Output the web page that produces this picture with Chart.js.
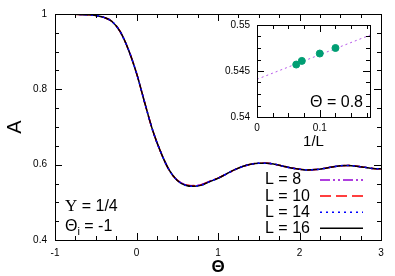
<!DOCTYPE html>
<html>
<head>
<meta charset="utf-8">
<script src="https://cdn.jsdelivr.net/npm/chart.js@4.4.1/dist/chart.umd.min.js"></script>
<style>
  body { margin: 0; background: #fff; }
  #wrap { position: relative; width: 395px; height: 276px; }
  #mainChart { position: absolute; left: 0; top: 0; }
  #insetChart { position: absolute; left: 200px; top: 10px; }
</style>
</head>
<body>
<div id="wrap">
  <canvas id="mainChart" width="395" height="276"></canvas>
  <canvas id="insetChart" width="190" height="150"></canvas>
</div>
<script>
// main panel: A vs Theta for several L
const theta = [-1.0, -0.9, -0.8, -0.7, -0.6, -0.5, -0.4, -0.3, -0.2, -0.1,
               0.0, 0.1, 0.2, 0.3, 0.4, 0.5, 0.6, 0.7, 0.8, 0.9,
               1.0, 1.1, 1.2, 1.3, 1.4, 1.5, 1.6, 1.7, 1.8, 1.9,
               2.0, 2.1, 2.2, 2.3, 2.4, 2.5, 2.6, 2.7, 2.8, 2.9, 3.0];

const aL8  = [1.000, 1.000, 0.9995, 0.999, 0.998, 0.996, 0.991, 0.980, 0.953, 0.906,
              0.843, 0.765, 0.690, 0.632, 0.586, 0.559, 0.547, 0.5444, 0.5475, 0.5566,
              0.5645, 0.575, 0.586, 0.595, 0.601, 0.604, 0.604, 0.601, 0.596, 0.591,
              0.588, 0.586, 0.587, 0.590, 0.594, 0.597, 0.598, 0.596, 0.593, 0.590, 0.589];
const aL10 = [1.000, 1.000, 0.9995, 0.999, 0.998, 0.996, 0.991, 0.980, 0.953, 0.906,
              0.843, 0.765, 0.690, 0.632, 0.586, 0.5585, 0.5465, 0.5437, 0.5469, 0.556,
              0.5643, 0.575, 0.586, 0.595, 0.601, 0.604, 0.604, 0.601, 0.596, 0.591,
              0.588, 0.586, 0.587, 0.590, 0.594, 0.597, 0.598, 0.596, 0.593, 0.590, 0.589];
const aL14 = [1.000, 1.000, 0.9995, 0.999, 0.998, 0.996, 0.991, 0.980, 0.953, 0.906,
              0.843, 0.765, 0.690, 0.632, 0.586, 0.558, 0.5458, 0.5429, 0.5461, 0.5553,
              0.564, 0.575, 0.586, 0.595, 0.601, 0.604, 0.604, 0.601, 0.596, 0.591,
              0.588, 0.586, 0.587, 0.590, 0.594, 0.597, 0.598, 0.596, 0.593, 0.590, 0.589];
const aL16 = [1.000, 1.000, 0.9995, 0.999, 0.998, 0.996, 0.991, 0.980, 0.953, 0.906,
              0.843, 0.765, 0.690, 0.632, 0.586, 0.558, 0.5455, 0.5425, 0.5457, 0.555,
              0.564, 0.575, 0.586, 0.595, 0.601, 0.604, 0.604, 0.601, 0.596, 0.591,
              0.588, 0.586, 0.587, 0.590, 0.594, 0.597, 0.598, 0.596, 0.593, 0.590, 0.589];

const seriesLabels = ['L = 8', 'L = 10', 'L = 14', 'L = 16'];

// inset: A at Theta = 0.8 vs 1/L, plus linear fit
const invL = [0.0625, 0.0714, 0.1, 0.125];
const aAt08 = [0.5457, 0.5461, 0.5469, 0.5475];
const fitX = [0, 0.18];
const fitY = [0.5441, 0.5489];

const SANS = '"Liberation Sans", Arial, sans-serif';

function pts(xs, ys) {
    return xs.map((x, i) => ({x: x, y: ys[i]}));
}

function fmt(v) {
    return String(+v.toFixed(4));
}

// gnuplot style frame with inward ticks on all four sides
const boxTicks = {
    id: 'boxTicks',
    afterDatasetsDraw(chart, args, opts) {
        const {ctx, chartArea: a, scales} = chart;
        ctx.save();
        ctx.strokeStyle = '#000';
        ctx.lineWidth = 1;
        ctx.strokeRect(Math.round(a.left) + 0.5, Math.round(a.top) + 0.5,
                       Math.round(a.right - a.left), Math.round(a.bottom - a.top));
        ['x', 'y'].forEach(k => {
            const s = scales[k];
            const st = opts[k];
            const n = Math.floor((s.max - s.min) / st.minor + 1e-6);
            for (let i = 0; i <= n; i++) {
                const v = s.min + i * st.minor;
                const r = v / st.major;
                const len = Math.abs(r - Math.round(r)) < 1e-6 ? 7 : 4;
                const p = Math.round(s.getPixelForValue(v)) + 0.5;
                ctx.beginPath();
                if (k === 'x') {
                    ctx.moveTo(p, a.bottom); ctx.lineTo(p, a.bottom - len);
                    ctx.moveTo(p, a.top); ctx.lineTo(p, a.top + len);
                } else {
                    ctx.moveTo(a.left, p); ctx.lineTo(a.left + len, p);
                    ctx.moveTo(a.right, p); ctx.lineTo(a.right - len, p);
                }
                ctx.stroke();
            }
        });
        ctx.restore();
    }
};

// key and labels drawn inside the main plot
const mainNotes = {
    id: 'mainNotes',
    afterDraw(chart) {
        const ctx = chart.ctx;
        ctx.save();
        ctx.fillStyle = '#000';
        ctx.textBaseline = 'middle';

        chart.data.datasets.forEach((ds, i) => {
            const y = 180 + i * 16.1;
            ctx.font = '16px ' + SANS;
            ctx.textAlign = 'left';
            ctx.fillText(ds.label, 265, y);
            ctx.beginPath();
            ctx.strokeStyle = ds.borderColor;
            ctx.lineWidth = ds.borderWidth;
            ctx.setLineDash(ds.borderDash || []);
            ctx.moveTo(320, y);
            ctx.lineTo(363, y);
            ctx.stroke();
        });
        ctx.setLineDash([]);

        ctx.textAlign = 'left';
        let x = 65;
        ctx.font = '17px "Liberation Serif", serif';
        ctx.fillText('Υ', x, 207);
        x += ctx.measureText('Υ').width;
        ctx.font = '16px ' + SANS;
        ctx.fillText(' = 1/4', x, 207);

        x = 65;
        ctx.fillText('Θ', x, 227);
        x += ctx.measureText('Θ').width;
        ctx.font = '11px ' + SANS;
        ctx.fillText('i', x, 232);
        x += ctx.measureText('i').width;
        ctx.font = '16px ' + SANS;
        ctx.fillText(' = -1', x, 227);
        ctx.restore();
    }
};

const insetNotes = {
    id: 'insetNotes',
    afterDraw(chart) {
        const ctx = chart.ctx;
        ctx.save();
        ctx.fillStyle = '#000';
        ctx.font = '16px ' + SANS;
        ctx.textAlign = 'right';
        ctx.textBaseline = 'middle';
        ctx.fillText('Θ = 0.8', 163, 93);
        ctx.restore();
    }
};

function lineSet(label, ys, color, dash, order) {
    return {
        label: label,
        data: pts(theta, ys),
        borderColor: color,
        borderWidth: 1.5,
        borderDash: dash,
        pointRadius: 0,
        fill: false,
        order: order,
        cubicInterpolationMode: 'monotone'
    };
}

new Chart(document.getElementById('mainChart'), {
    type: 'line',
    data: {
        datasets: [
            lineSet(seriesLabels[0], aL8, '#9400d3', [10, 3, 2, 3, 2, 3], 4),
            lineSet(seriesLabels[1], aL10, '#ff0000', [11, 5], 3),
            lineSet(seriesLabels[2], aL14, '#0000ff', [2, 4], 1),
            lineSet(seriesLabels[3], aL16, '#000000', [], 2)
        ]
    },
    options: {
        responsive: false,
        animation: false,
        layout: { padding: { left: 0, right: 14, top: 13, bottom: 0 } },
        plugins: {
            legend: { display: false },
            tooltip: { enabled: false },
            boxTicks: { x: { major: 1, minor: 0.25 }, y: { major: 0.2, minor: 0.05 } }
        },
        scales: {
            x: {
                type: 'linear',
                min: -1,
                max: 3,
                grid: { display: false, drawTicks: false },
                border: { display: false },
                ticks: { stepSize: 1, padding: 7, color: '#000', maxRotation: 0,
                         font: { family: SANS, size: 10 }, callback: fmt },
                title: { display: true, text: 'Θ', color: '#000',
                         font: { family: SANS, size: 17, weight: 'bold', lineHeight: 1 },
                         padding: { top: 0, bottom: 0 } },
                afterFit: s => { s.height = 36; }
            },
            y: {
                min: 0.4,
                max: 1,
                grid: { display: false, drawTicks: false },
                border: { display: false },
                ticks: { stepSize: 0.2, padding: 8, color: '#000',
                         font: { family: SANS, size: 10 }, callback: fmt },
                title: { display: true, text: 'A', color: '#000',
                         font: { family: SANS, size: 20, lineHeight: 1 },
                         padding: { top: 5, bottom: 0 } },
                afterFit: s => { s.width = 55; }
            }
        }
    },
    plugins: [boxTicks, mainNotes]
});

new Chart(document.getElementById('insetChart'), {
    type: 'scatter',
    data: {
        datasets: [
            {
                label: 'A(0.8)',
                data: pts(invL, aAt08),
                backgroundColor: '#009e73',
                borderColor: '#009e73',
                pointRadius: 3.5,
                showLine: false
            },
            {
                label: 'fit',
                data: pts(fitX, fitY),
                type: 'line',
                borderColor: 'rgba(170, 60, 230, 0.85)',
                borderWidth: 1,
                borderDash: [2, 3],
                pointRadius: 0,
                fill: false
            }
        ]
    },
    options: {
        responsive: false,
        animation: false,
        layout: { padding: { left: 0, right: 20, top: 15, bottom: 0 } },
        plugins: {
            legend: { display: false },
            tooltip: { enabled: false },
            boxTicks: { x: { major: 0.1, minor: 0.025 }, y: { major: 0.005, minor: 0.00125 } }
        },
        scales: {
            x: {
                type: 'linear',
                min: 0,
                max: 0.18,
                grid: { display: false, drawTicks: false },
                border: { display: false },
                ticks: { stepSize: 0.1, padding: 5, color: '#000', maxRotation: 0,
                         font: { family: SANS, size: 10 },
                         callback: v => (Math.abs(v - 0.18) < 1e-9 ? null : fmt(v)) },
                title: { display: true, text: '1/L', color: '#000',
                         font: { family: SANS, size: 15, lineHeight: 1 },
                         padding: { top: 0, bottom: 11 } },
                afterFit: s => { s.height = 43; }
            },
            y: {
                min: 0.54,
                max: 0.55,
                grid: { display: false, drawTicks: false },
                border: { display: false },
                ticks: { stepSize: 0.005, padding: 7, color: '#000',
                         font: { family: SANS, size: 10 }, callback: fmt },
                afterFit: s => { s.width = 57; }
            }
        }
    },
    plugins: [boxTicks, insetNotes]
});
</script>
</body>
</html>
